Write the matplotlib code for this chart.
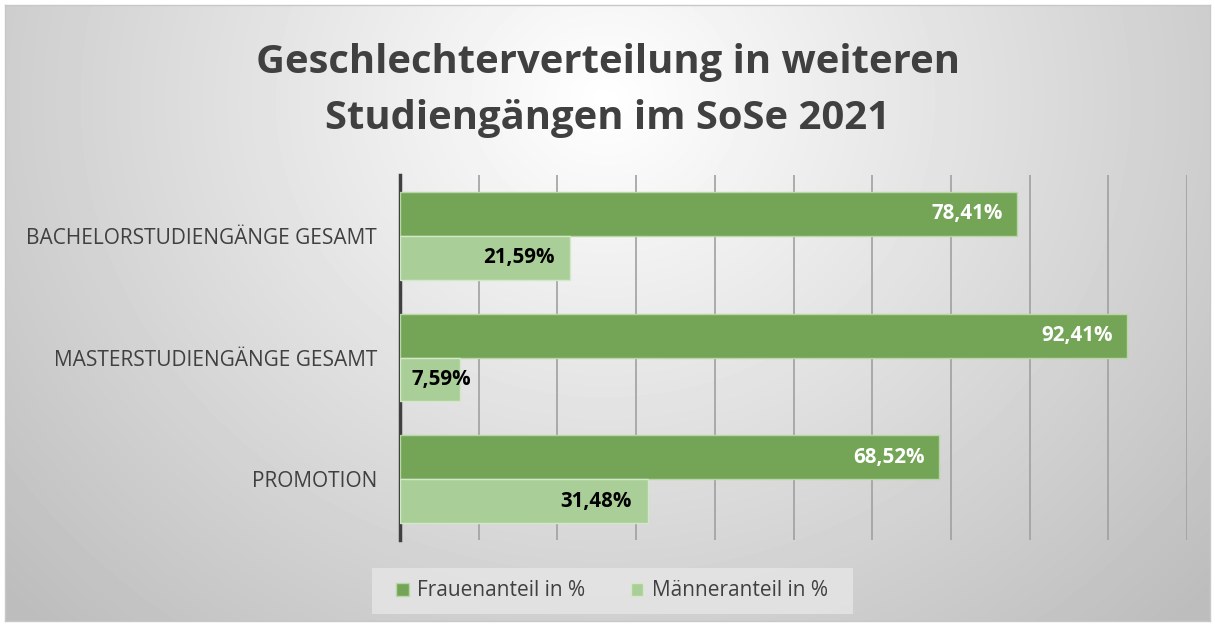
import matplotlib.pyplot as plt
import numpy as np
from matplotlib.patches import Rectangle

kategorien = ["BACHELORSTUDIENGÄNGE GESAMT", "MASTERSTUDIENGÄNGE GESAMT", "PROMOTION"]
frauen = [78.41, 92.41, 68.52]
maenner = [21.59, 7.59, 31.48]
frauen_labels = ["78,41%", "92,41%", "68,52%"]
maenner_labels = ["21,59%", "7,59%", "31,48%"]

plt.rcParams['font.family'] = ['Open Sans', 'DejaVu Sans']

W, H = 1215, 626
fig = plt.figure(figsize=(W / 100, H / 100), dpi=100)
fig.patch.set_facecolor('white')

# Hintergrund mit radialem Verlauf
bg = fig.add_axes([5 / W, 5 / H, 1205 / W, 616 / H])
yy, xx = np.mgrid[0:616, 0:1205]
d = np.sqrt(((xx - 600) / 1.0) ** 2 + ((yy - 95) / 0.9) ** 2)
grau = np.clip(1.0 - 0.00032 * d, 0.74, 1.0)
bg.imshow(grau, cmap='gray', vmin=0, vmax=1, aspect='auto', extent=[0, 1, 0, 1], origin='upper')
bg.set_xticks([])
bg.set_yticks([])
for s in bg.spines.values():
    s.set_color('#c8c8c8')
    s.set_linewidth(1)

fig.text(0.5, 1 - 62 / H, "Geschlechterverteilung in weiteren", ha='center', va='center',
         fontsize=28.8, fontweight='bold', color='#404040')
fig.text(0.5, 1 - 118 / H, "Studiengängen im SoSe 2021", ha='center', va='center',
         fontsize=28.8, fontweight='bold', color='#404040')

ax = fig.add_axes([400 / W, 1 - 540 / H, 787 / W, 365 / H])
ax.patch.set_alpha(0)

y = np.arange(len(kategorien))
h = 0.36
ax.barh(y - h / 2, frauen, height=h, color='#74A557', edgecolor='#b9d7a6', linewidth=1, zorder=3,
        label='Frauenanteil in %')
ax.barh(y + h / 2, maenner, height=h, color='#A9CE97', edgecolor='#d3e8c8', linewidth=1, zorder=3,
        label='Männeranteil in %')

for i in range(len(kategorien)):
    ax.text(frauen[i] - 1.8, y[i] - h / 2, frauen_labels[i], ha='right', va='center',
            fontsize=14.8, fontweight='bold', color='white', zorder=4)
    if maenner[i] < 10:
        ax.text(1.5, y[i] + h / 2, maenner_labels[i], ha='left', va='center',
                fontsize=14.8, fontweight='bold', color='black', zorder=4)
    else:
        ax.text(maenner[i] - 2.0, y[i] + h / 2, maenner_labels[i], ha='right', va='center',
                fontsize=14.8, fontweight='bold', color='black', zorder=4)

ax.set_xlim(0, 100)
ax.set_ylim(2.5, -0.5)
ax.set_xticks(np.arange(10, 101, 10))
ax.xaxis.grid(True, color='#a0a0a0', linewidth=1.2, zorder=0)
ax.tick_params(axis='x', length=0, labelbottom=False)
ax.set_yticks(y)
ax.set_yticklabels(kategorien, fontsize=15, color='#404040')
ax.tick_params(axis='y', length=0, pad=16.5)
for s in ['top', 'right', 'bottom']:
    ax.spines[s].set_visible(False)
ax.spines['left'].set_color('#404040')
ax.spines['left'].set_linewidth(2.5)

# Legendenhintergrund
fig.patches.append(Rectangle((372 / W, 1 - 614 / H), 481 / W, 46 / H, transform=fig.transFigure,
                             facecolor='#e6e6e6', alpha=0.8, edgecolor='none', zorder=1))

leg = fig.legend(loc='center', bbox_to_anchor=(612 / W, 1 - 591 / H), ncol=2, frameon=False,
                 fontsize=15, handlelength=0.6, handleheight=0.6, handletextpad=0.4,
                 columnspacing=2.2, borderpad=0.6)
for t in leg.get_texts():
    t.set_color('#404040')

fig.savefig('out.png', dpi=100)
